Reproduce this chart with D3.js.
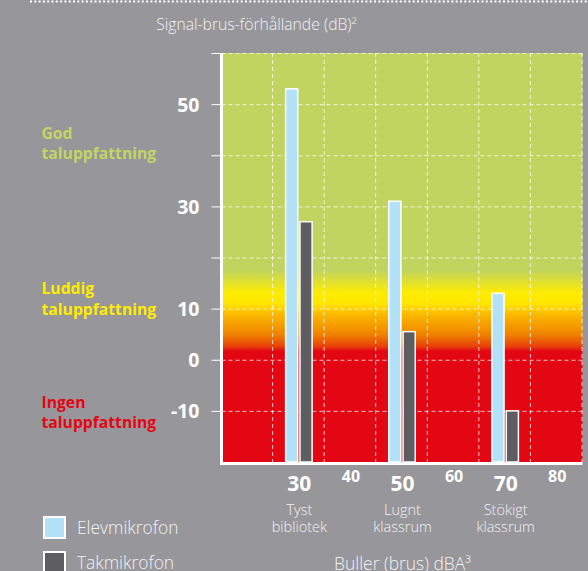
<!DOCTYPE html>
<html>
<head>
<meta charset="utf-8">
<script src="https://cdn.jsdelivr.net/npm/d3@7/dist/d3.min.js"></script>
<style>
  html, body { margin: 0; padding: 0; background: #97969b; }
  svg { display: block; }
</style>
</head>
<body>
<svg id="chart" width="588" height="571"></svg>
<script>
// ---- data ----
const noiseLevels = [30, 50, 70];                 // Buller (brus) dBA
const environments = [["Tyst", "bibliotek"], ["Lugnt", "klassrum"], ["Stökigt", "klassrum"]];
const seriesNames = ["Elevmikrofon", "Takmikrofon"];
const elevValues = [53, 31, 13];                  // Signal-brus-förhållande (dB)
const takValues = [27, 5.5, -10];
const yTickLabels = [50, 30, 10, 0, -10];
const yTickAll = [60, 50, 40, 30, 20, 10, 0, -10];
const xTickMajor = [30, 50, 70];
const xTickMinor = [40, 60, 80];
const xGridValues = [25, 35, 45, 55, 65, 75, 85];
const zones = [
  { lines: ["God", "taluppfattning"], value: 43.2, color: "#c3d562" },
  { lines: ["Luddig", "taluppfattning"], value: 12.8, color: "#ffec00" },
  { lines: ["Ingen", "taluppfattning"], value: -9.4, color: "#e30613" }
];
const seriesColors = ["#b3e1f8", "#5e5d62"];

// ---- layout ----
const svg = d3.select("#chart");
const font = "'Open Sans', 'Noto Sans', sans-serif";
const x = d3.scaleLinear().domain([15, 85]).range([221.5, 582.5]);
const y = d3.scaleLinear().domain([-20, 60]).range([462, 53]);
const seriesBand = d3.scaleBand().domain(seriesNames).range([-14, 14]).paddingInner(0.05);

// top dotted line
svg.append("line")
  .attr("x1", 30).attr("x2", 588).attr("y1", 1.5).attr("y2", 1.5)
  .attr("stroke", "#ffffff").attr("stroke-width", 2).attr("stroke-dasharray", "2,2.3");

// gradient background
const defs = svg.append("defs");
const grad = defs.append("linearGradient").attr("id", "bg")
  .attr("gradientUnits", "userSpaceOnUse")
  .attr("x1", 0).attr("x2", 0).attr("y1", y(60)).attr("y2", y(-20));
const stops = [
  [60, "#c1d45f"], [17.5, "#c1d45f"], [13, "#ffec00"], [11, "#ffe600"],
  [9, "#fbbb00"], [5, "#f08400"], [2.6, "#e8400a"], [1.7, "#e30613"], [-20, "#e30613"]
];
stops.forEach(([v, c]) => {
  grad.append("stop")
    .attr("offset", (y(v) - y(60)) / (y(-20) - y(60)))
    .attr("stop-color", c);
});
svg.append("rect")
  .attr("x", x(15)).attr("y", y(60))
  .attr("width", x(85) - x(15)).attr("height", y(-20) - y(60))
  .attr("fill", "url(#bg)");

// grid
const grid = svg.append("g").attr("stroke", "rgba(255,255,255,0.75)")
  .attr("stroke-width", 1).attr("stroke-dasharray", "4,3").attr("fill", "none");
grid.selectAll("line.h").data(yTickAll).join("line").attr("class", "h")
  .attr("x1", x(15)).attr("x2", x(85))
  .attr("y1", d => y(d) + 0.5).attr("y2", d => y(d) + 0.5);
grid.selectAll("line.v").data(xGridValues).join("line").attr("class", "v")
  .attr("x1", d => x(d) - 0.5).attr("x2", d => x(d) - 0.5)
  .attr("y1", y(60)).attr("y2", y(-20));

// bars
const seriesData = [elevValues, takValues];
seriesNames.forEach((name, si) => {
  svg.append("g").selectAll("rect").data(noiseLevels.map((n, i) => ({ n, v: seriesData[si][i] })))
    .join("rect")
    .attr("x", d => x(d.n) + seriesBand(name) + 0.75)
    .attr("width", seriesBand.bandwidth() - 1.5)
    .attr("y", d => y(d.v))
    .attr("height", d => y(-20) - y(d.v))
    .attr("fill", seriesColors[si])
    .attr("stroke", "#ffffff").attr("stroke-width", 1.5);
});

// y axis
const yAxis = d3.axisLeft(y).tickValues(yTickAll).tickSize(10)
  .tickFormat(d => yTickLabels.includes(d) ? String(d) : "");
const yg = svg.append("g").attr("transform", `translate(${x(15)},0)`).call(yAxis);
yg.select(".domain").remove();
yg.selectAll(".tick line").attr("stroke", "#ffffff").attr("stroke-width", 1);
yg.selectAll(".tick text")
  .attr("x", -22).attr("dy", "0.36em")
  .attr("fill", "#ffffff").attr("font-family", font)
  .attr("font-size", 19.5).attr("font-weight", 700);
svg.append("line")
  .attr("x1", x(15)).attr("x2", x(15)).attr("y1", y(60)).attr("y2", y(-20) + 3)
  .attr("stroke", "#ffffff").attr("stroke-width", 3);
svg.append("line")
  .attr("x1", x(15) - 1.5).attr("x2", x(85)).attr("y1", y(-20) + 1.5).attr("y2", y(-20) + 1.5)
  .attr("stroke", "#ffffff").attr("stroke-width", 3);

// x axis labels
const xMajor = d3.axisBottom(x).tickValues(xTickMajor).tickSize(0).tickFormat(d3.format(""));
const xg1 = svg.append("g").attr("transform", `translate(0,${y(-20)})`).call(xMajor);
xg1.select(".domain").remove();
xg1.selectAll(".tick text").attr("y", 29).attr("dy", 0)
  .attr("fill", "#ffffff").attr("font-family", font)
  .attr("font-size", 21).attr("font-weight", 700);
const xMinor = d3.axisBottom(x).tickValues(xTickMinor).tickSize(0).tickFormat(d3.format(""));
const xg2 = svg.append("g").attr("transform", `translate(0,${y(-20)})`).call(xMinor);
xg2.select(".domain").remove();
xg2.selectAll(".tick text").attr("y", 19.5).attr("dy", 0)
  .attr("fill", "#ffffff").attr("font-family", font)
  .attr("font-size", 16).attr("font-weight", 700);

// environment labels
environments.forEach((lines, i) => {
  lines.forEach((l, j) => {
    svg.append("text").attr("text-anchor", "middle")
      .attr("fill", "#f2f2f2").attr("font-family", font)
      .attr("font-size", 14.5).attr("font-weight", 300)
      .attr("x", x(noiseLevels[i]) + 0.5).attr("y", 515 + j * 16.5).text(l);
  });
});

// zone labels
zones.forEach(z => {
  z.lines.forEach((l, j) => {
    svg.append("text").attr("fill", z.color).attr("font-family", font)
      .attr("font-size", 15.7).attr("font-weight", 700)
      .attr("x", 41.5).attr("y", y(z.value) + j * 20.5).text(l);
  });
});

// titles
svg.append("text").attr("x", 256.5).attr("y", 30).attr("text-anchor", "middle")
  .attr("fill", "#f2f2f2").attr("font-family", font).attr("font-size", 15.7).attr("font-weight", 300)
  .text("Signal-brus-förhållande (dB)²");
svg.append("text").attr("x", 402.5).attr("y", 569.5).attr("text-anchor", "middle")
  .attr("fill", "#f2f2f2").attr("font-family", font).attr("font-size", 17.4).attr("font-weight", 300)
  .text("Buller (brus) dBA³");

// legend
const legend = svg.append("g");
seriesNames.forEach((name, i) => {
  const g = legend.append("g").attr("transform", `translate(44,${517 + i * 35})`);
  g.append("rect").attr("width", 21).attr("height", 21)
    .attr("fill", seriesColors[i]).attr("stroke", "#ffffff").attr("stroke-width", 2);
  g.append("text").attr("x", 33).attr("y", 17)
    .attr("fill", "#f2f2f2").attr("font-family", font).attr("font-size", 17.4).attr("font-weight", 300)
    .text(name);
});
</script>
</body>
</html>
